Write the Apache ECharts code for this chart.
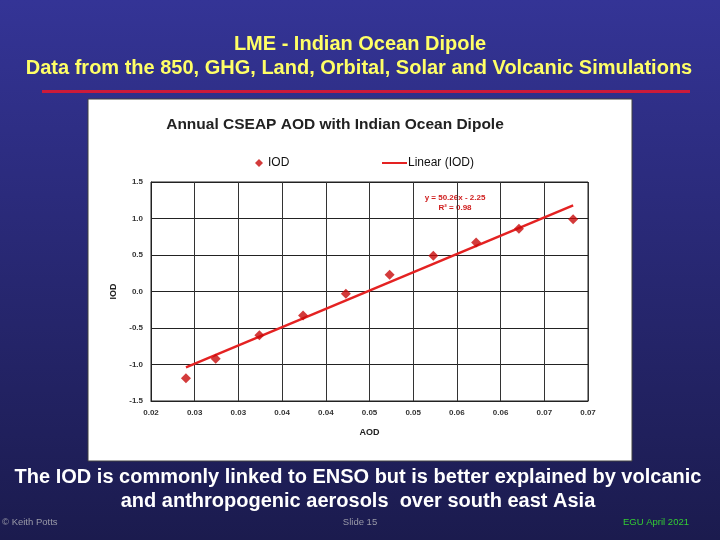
<!DOCTYPE html>
<html><head><meta charset="utf-8">
<script src="https://cdn.jsdelivr.net/npm/echarts@6/dist/echarts.min.js"></script>
<style>html,body{margin:0;padding:0;}#c{width:720px;height:540px;}</style>
</head><body><div id="c"></div>
<script>
// Data
const aodValues = [0.0240, 0.0274, 0.0324, 0.0374, 0.0423, 0.0473, 0.0523, 0.0572, 0.0621, 0.0683];
const iodValues = [-1.19, -0.92, -0.60, -0.33, -0.03, 0.23, 0.49, 0.67, 0.86, 0.99];
const trendX = [0.0240, 0.0683];
const trendY = [-1.04, 1.18];
const xTickLabels = ['0.02','0.03','0.03','0.04','0.04','0.05','0.05','0.06','0.06','0.07','0.07'];
const slideTitle = ['LME - Indian Ocean Dipole', 'Data from the 850, GHG, Land, Orbital, Solar and Volcanic Simulations'];
const chartTitle = 'Annual CSEAP AOD with Indian Ocean Dipole';
const caption = ['The IOD is commonly linked to ENSO but is better explained by volcanic', 'and anthropogenic aerosols  over south east Asia'];

const chart = echarts.init(document.getElementById('c'));
const FONT = '"Liberation Sans", Arial, sans-serif';
chart.setOption({
  animation: false,
  backgroundColor: new echarts.graphic.LinearGradient(0,0,0,1,[{offset:0,color:'#343496'},{offset:1,color:'#1b1b4e'}]),
  graphic: [
    {type:'rect', z:-10, shape:{x:88,y:99,width:544,height:362}, style:{fill:'#ffffff', stroke:'#404040', lineWidth:1}},
    {type:'rect', shape:{x:42,y:90,width:648,height:3}, style:{fill:'#cc1a3a'}},
    {type:'text', x:360, y:44, style:{text:slideTitle[0], fill:'#ffff66', font:'bold 20px '+FONT, align:'center', verticalAlign:'middle'}},
    {type:'text', x:359, y:68, style:{text:slideTitle[1], fill:'#ffff66', font:'bold 20px '+FONT, align:'center', verticalAlign:'middle'}},
    {type:'text', x:358, y:477, style:{text:caption[0], fill:'#ffffff', font:'bold 20px '+FONT, align:'center', verticalAlign:'middle'}},
    {type:'text', x:358, y:501, style:{text:caption[1], fill:'#ffffff', font:'bold 20px '+FONT, align:'center', verticalAlign:'middle'}},
    {type:'text', x:2, y:522, style:{text:'© Keith Potts', fill:'#9a9aa8', font:'9.5px '+FONT, align:'left', verticalAlign:'middle'}},
    {type:'text', x:360, y:522, style:{text:'Slide 15', fill:'#9a9aa8', font:'9.5px '+FONT, align:'center', verticalAlign:'middle'}},
    {type:'text', x:656, y:522, style:{text:'EGU April 2021', fill:'#33cc33', font:'9.5px '+FONT, align:'center', verticalAlign:'middle'}},
    {type:'text', x:455, y:198, style:{text:'y = 50.26x - 2.25', fill:'#d02020', font:'bold 8px '+FONT, align:'center', verticalAlign:'middle'}},
    {type:'text', x:455, y:208, style:{text:'R² = 0.98', fill:'#d02020', font:'bold 8px '+FONT, align:'center', verticalAlign:'middle'}}
  ],
  title: {text: chartTitle, left: 330, top: 112, textAlign:'center',
    textStyle:{fontFamily:FONT, fontSize:15.5, fontWeight:'bold', color:'#222'}},
  legend: [
    {data:[{name:'IOD', icon:'diamond'}], left:250, top:152, itemWidth:8, itemHeight:8, itemGap:6,
      textStyle:{fontFamily:FONT, fontSize:12, color:'#111'}},
    {data:[{name:'Linear (IOD)', icon:'rect'}], left:377, top:152, itemWidth:25, itemHeight:2, itemGap:2,
      textStyle:{fontFamily:FONT, fontSize:12, color:'#111', padding:[0,0,0,-4]}}
  ],
  grid: {left:151, right:132, top:182, bottom:139, show:true, borderColor:'#222', borderWidth:1},
  xAxis: {type:'value', min:0.02, max:0.07, interval:0.005,
    name:'AOD', nameLocation:'middle', nameGap:27,
    nameTextStyle:{fontFamily:FONT, fontSize:9, fontWeight:'bold', color:'#222'},
    axisLine:{show:true, onZero:false, lineStyle:{color:'#222'}},
    axisTick:{show:false},
    axisLabel:{fontFamily:FONT, fontSize:8, fontWeight:'bold', color:'#333', margin:8,
      formatter:(v)=>xTickLabels[Math.round((v-0.02)/0.005)]},
    splitLine:{show:true, lineStyle:{color:'#333', width:1}}},
  yAxis: {type:'value', min:-1.5, max:1.5, interval:0.5,
    name:'IOD', nameLocation:'middle', nameGap:32,
    nameTextStyle:{fontFamily:FONT, fontSize:9, fontWeight:'bold', color:'#222'},
    axisLine:{show:true, lineStyle:{color:'#222'}},
    axisTick:{show:false},
    axisLabel:{fontFamily:FONT, fontSize:8, fontWeight:'bold', color:'#333', margin:8,
      formatter:(v)=>v.toFixed(1)},
    splitLine:{show:true, lineStyle:{color:'#222', width:1}}},
  series: [
    {name:'IOD', type:'scatter', symbol:'diamond', symbolSize:10,
      itemStyle:{color:'#c80a0a'},
      data: aodValues.map((x,i)=>[x, iodValues[i]]), z:3},
    {name:'Linear (IOD)', type:'line', symbol:'none', smooth:false,
      lineStyle:{color:'#e42222', width:2.5}, itemStyle:{color:'#e42222'},
      data: trendX.map((x,i)=>[x, trendY[i]]), z:2}
  ]
});
</script></body></html>
